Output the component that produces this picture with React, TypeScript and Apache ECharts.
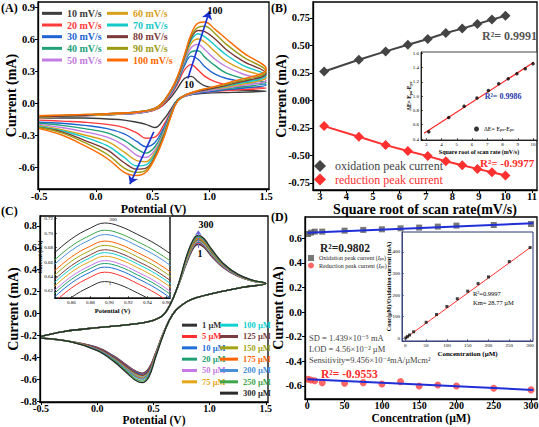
import React, { useEffect, useRef } from 'react';
import * as echarts from 'echarts';

const FONT = '"Liberation Serif", "DejaVu Serif", serif';

// ---------------- Panel A : CVs at different scan rates ----------------
const A_NAMES = ['10 mV/s', '20 mV/s', '30 mV/s', '40 mV/s', '50 mV/s', '60 mV/s', '70 mV/s', '80 mV/s', '90 mV/s', '100 mV/s'];
const A_COLORS = ['#3c3c3c', '#ff3b3b', '#1e64d2', '#21a079', '#c27be0', '#d9a01a', '#16c8c8', '#7a3838', '#9b9b12', '#ff6a00'];
const A_FWD_V = [-0.5, -0.2, 0.1, 0.4, 0.55, 0.65, 0.72, 0.78, 0.84, 0.9, 0.96, 1.05, 1.15, 1.3, 1.5];
const A_FWD_I = [
  [-0.13, -0.12, -0.11, -0.09, -0.05, 0.04, 0.14, 0.23, 0.25, 0.2, 0.16, 0.14, 0.13, 0.12, 0.11],
  [-0.13, -0.12, -0.11, -0.09, -0.05, 0.06, 0.18, 0.31, 0.36, 0.31, 0.25, 0.2, 0.17, 0.15, 0.14],
  [-0.14, -0.12, -0.11, -0.09, -0.04, 0.07, 0.2, 0.35, 0.44, 0.41, 0.34, 0.27, 0.23, 0.2, 0.17],
  [-0.14, -0.12, -0.11, -0.09, -0.04, 0.08, 0.21, 0.37, 0.48, 0.49, 0.43, 0.35, 0.28, 0.23, 0.19],
  [-0.14, -0.12, -0.11, -0.09, -0.04, 0.08, 0.22, 0.39, 0.52, 0.55, 0.5, 0.41, 0.34, 0.27, 0.21],
  [-0.14, -0.12, -0.11, -0.08, -0.04, 0.09, 0.23, 0.41, 0.56, 0.6, 0.57, 0.48, 0.39, 0.31, 0.24],
  [-0.13, -0.12, -0.1, -0.08, -0.03, 0.09, 0.24, 0.42, 0.59, 0.65, 0.62, 0.54, 0.45, 0.35, 0.26],
  [-0.13, -0.12, -0.1, -0.08, -0.03, 0.1, 0.24, 0.43, 0.61, 0.68, 0.67, 0.6, 0.5, 0.39, 0.28],
  [-0.12, -0.11, -0.1, -0.08, -0.03, 0.1, 0.25, 0.44, 0.63, 0.71, 0.72, 0.65, 0.55, 0.43, 0.3],
  [-0.12, -0.11, -0.1, -0.08, -0.03, 0.1, 0.25, 0.45, 0.65, 0.75, 0.76, 0.69, 0.6, 0.47, 0.32],
];
const A_REV_V = [1.5, 1.2, 0.95, 0.8, 0.72, 0.66, 0.6, 0.52, 0.44, 0.36, 0.25, 0.1, -0.1, -0.3, -0.5];
const A_REV_I = [
  [0.11, 0.1, 0.09, 0.07, 0.03, -0.06, -0.15, -0.23, -0.2, -0.18, -0.16, -0.15, -0.14, -0.14, -0.14],
  [0.14, 0.12, 0.1, 0.07, 0.03, -0.08, -0.2, -0.32, -0.33, -0.28, -0.23, -0.2, -0.18, -0.17, -0.16],
  [0.17, 0.13, 0.1, 0.07, 0.03, -0.09, -0.23, -0.37, -0.41, -0.36, -0.29, -0.24, -0.21, -0.19, -0.18],
  [0.19, 0.14, 0.11, 0.07, 0.03, -0.1, -0.25, -0.41, -0.47, -0.43, -0.35, -0.28, -0.24, -0.21, -0.19],
  [0.21, 0.15, 0.11, 0.07, 0.02, -0.1, -0.27, -0.44, -0.51, -0.49, -0.4, -0.32, -0.27, -0.23, -0.2],
  [0.24, 0.16, 0.12, 0.08, 0.02, -0.11, -0.28, -0.46, -0.55, -0.54, -0.46, -0.36, -0.3, -0.25, -0.21],
  [0.26, 0.17, 0.12, 0.08, 0.02, -0.11, -0.29, -0.48, -0.58, -0.59, -0.51, -0.4, -0.32, -0.26, -0.22],
  [0.28, 0.18, 0.12, 0.08, 0.02, -0.12, -0.3, -0.5, -0.61, -0.62, -0.56, -0.44, -0.35, -0.27, -0.23],
  [0.3, 0.19, 0.13, 0.08, 0.02, -0.12, -0.31, -0.51, -0.63, -0.65, -0.61, -0.48, -0.37, -0.28, -0.23],
  [0.32, 0.2, 0.13, 0.08, 0.02, -0.13, -0.32, -0.52, -0.65, -0.68, -0.65, -0.52, -0.4, -0.3, -0.24],
];
const A_X_TICKS = [-0.5, 0, 0.5, 1, 1.5];
const A_Y_TICKS = [-0.6, -0.3, 0, 0.3, 0.6, 0.9];
const A_ARROWS = [
  [[0.81, 0.23], [1.0, 0.86]],
  [[0.51, -0.27], [0.3, -0.76]],
];

// ---------------- Panel B : peak current vs sqrt(scan rate) ----------------
const B_X = [3.16, 4.47, 5.48, 6.32, 7.07, 7.75, 8.37, 8.94, 9.49, 10];
const B_OX = [0.263, 0.37, 0.446, 0.507, 0.558, 0.613, 0.653, 0.695, 0.735, 0.77];
const B_RED = [-0.233, -0.33, -0.406, -0.46, -0.506, -0.552, -0.589, -0.622, -0.653, -0.683];
const B_X_TICKS = [3, 4, 5, 6, 7, 8, 9, 10, 11];
const B_Y_TICKS = [-0.75, -0.5, -0.25, 0, 0.25, 0.5, 0.75];
// inset of B
const IB_DE = [0.5, 0.7, 0.86, 0.975, 1.08, 1.175, 1.245, 1.315, 1.385, 1.455];
const IB_FIT = [[2.85, 0.48], [10.05, 1.475]];
const IB_X_TICKS = [3, 4, 5, 6, 7, 8, 9, 10];
const IB_Y_TICKS = [0.4, 0.6, 0.8, 1.0, 1.2, 1.4, 1.6];

// ---------------- Panel C : CVs at different concentrations ----------------
const C_NAMES = ['1 µM', '5 µM', '10 µM', '20 µM', '50 µM', '75 µM', '100 µM', '125 µM', '150 µM', '175 µM', '200 µM', '250 µM', '300 µM'];
const C_COLORS = ['#333333', '#ff3030', '#1e6fd8', '#20a070', '#c878e6', '#e6a417', '#10d0d0', '#7a3c3c', '#a3a315', '#ff6400', '#4a90d9', '#3ea64a', '#2b2b2b'];
const C_FWD_PRE_V = [-0.5, -0.3, 0.0, 0.3, 0.5, 0.6, 0.7];
const C_FWD_PRE_I = [-0.21, -0.165, -0.13, -0.1, -0.062, -0.002, 0.2];
const C_FWD_PEAK_V = [0.8, 0.86, 0.9, 0.95, 1.02, 1.12, 1.25, 1.38];
const C_FWD_PEAK_I = [
  [0.47, 0.605, 0.633, 0.605, 0.52, 0.42, 0.34, 0.295],
  [0.48, 0.617, 0.646, 0.617, 0.53, 0.425, 0.343, 0.297],
  [0.485, 0.624, 0.653, 0.624, 0.536, 0.43, 0.345, 0.298],
  [0.49, 0.629, 0.658, 0.629, 0.54, 0.433, 0.347, 0.299],
  [0.495, 0.633, 0.662, 0.633, 0.545, 0.436, 0.349, 0.3],
  [0.5, 0.639, 0.668, 0.639, 0.55, 0.44, 0.351, 0.3],
  [0.505, 0.644, 0.673, 0.644, 0.555, 0.443, 0.352, 0.301],
  [0.51, 0.648, 0.677, 0.648, 0.56, 0.446, 0.353, 0.302],
  [0.515, 0.654, 0.683, 0.654, 0.565, 0.449, 0.355, 0.302],
  [0.52, 0.66, 0.689, 0.66, 0.57, 0.452, 0.356, 0.303],
  [0.528, 0.669, 0.698, 0.669, 0.576, 0.455, 0.358, 0.304],
  [0.533, 0.675, 0.704, 0.675, 0.58, 0.457, 0.359, 0.304],
  [0.54, 0.685, 0.714, 0.685, 0.585, 0.46, 0.36, 0.305],
];
const C_REV_PRE_V = [1.5, 1.3, 1.1, 0.9, 0.8, 0.7, 0.64];
const C_REV_PRE_I = [0.275, 0.24, 0.2, 0.15, 0.11, 0.03, -0.065];
const C_REV_PEAK_V = [0.58, 0.52, 0.46, 0.4, 0.34, 0.26, 0.15, 0.0];
const C_REV_PEAK_I = [
  [-0.2, -0.36, -0.5, -0.546, -0.525, -0.47, -0.39, -0.31],
  [-0.2, -0.362, -0.505, -0.551, -0.53, -0.474, -0.393, -0.312],
  [-0.202, -0.365, -0.51, -0.557, -0.535, -0.478, -0.396, -0.314],
  [-0.205, -0.372, -0.525, -0.573, -0.551, -0.49, -0.405, -0.32],
  [-0.206, -0.374, -0.53, -0.578, -0.556, -0.494, -0.408, -0.322],
  [-0.205, -0.372, -0.525, -0.573, -0.551, -0.49, -0.405, -0.32],
  [-0.207, -0.377, -0.535, -0.584, -0.562, -0.5, -0.412, -0.325],
  [-0.203, -0.368, -0.518, -0.565, -0.543, -0.484, -0.4, -0.317],
  [-0.21, -0.385, -0.55, -0.6, -0.578, -0.512, -0.42, -0.33],
  [-0.208, -0.382, -0.543, -0.592, -0.57, -0.506, -0.416, -0.328],
  [-0.21, -0.385, -0.55, -0.6, -0.578, -0.512, -0.42, -0.33],
  [-0.215, -0.393, -0.568, -0.619, -0.596, -0.528, -0.431, -0.336],
  [-0.22, -0.4, -0.58, -0.632, -0.61, -0.54, -0.44, -0.34],
];
const C_REV_END_V = [-0.25, -0.5];
const C_REV_END_I = [-0.255, -0.225];
const C_X_TICKS = [-0.5, 0, 0.5, 1, 1.5];
const C_Y_TICKS = [-0.8, -0.6, -0.4, -0.2, 0, 0.2, 0.4, 0.6, 0.8];
const C_ARROW = [[0.9, 0.6], [0.9, 0.76]];
// inset of C (zoom on the oxidation peak)
const IC_V = [0.84, 0.86, 0.88, 0.895, 0.91, 0.93, 0.95, 0.97];
const IC_I = [
  [0.589, 0.611, 0.626, 0.633, 0.629, 0.617, 0.603, 0.585],
  [0.602, 0.624, 0.639, 0.646, 0.642, 0.63, 0.616, 0.598],
  [0.609, 0.631, 0.646, 0.653, 0.649, 0.637, 0.623, 0.605],
  [0.614, 0.636, 0.651, 0.658, 0.654, 0.642, 0.628, 0.61],
  [0.618, 0.64, 0.655, 0.662, 0.658, 0.646, 0.632, 0.614],
  [0.624, 0.646, 0.661, 0.668, 0.664, 0.652, 0.638, 0.62],
  [0.629, 0.651, 0.666, 0.673, 0.669, 0.657, 0.643, 0.625],
  [0.633, 0.655, 0.67, 0.677, 0.673, 0.661, 0.647, 0.629],
  [0.639, 0.661, 0.676, 0.683, 0.679, 0.667, 0.653, 0.635],
  [0.645, 0.667, 0.682, 0.689, 0.685, 0.673, 0.659, 0.641],
  [0.654, 0.676, 0.691, 0.698, 0.694, 0.682, 0.668, 0.65],
  [0.66, 0.682, 0.697, 0.704, 0.7, 0.688, 0.674, 0.656],
  [0.67, 0.692, 0.707, 0.714, 0.71, 0.698, 0.684, 0.666],
];
const IC_ARROW = [[0.897, 0.612], [0.897, 0.722]];
const IC_X_TICKS = [0.86, 0.88, 0.9, 0.92, 0.94, 0.96];
const IC_Y_TICKS = [0.62, 0.64, 0.66, 0.68, 0.7, 0.72];

// ---------------- Panel D : peak current vs concentration ----------------
const D_CONC = [1, 5, 10, 20, 50, 75, 100, 125, 150, 175, 200, 250, 300];
const D_OX = [0.635, 0.646, 0.654, 0.654, 0.662, 0.668, 0.673, 0.681, 0.687, 0.695, 0.703, 0.708, 0.716];
const D_RED = [-0.546, -0.551, -0.557, -0.573, -0.578, -0.573, -0.584, -0.565, -0.6, -0.592, -0.6, -0.619, -0.632];
const D_OX_FIT = [[0, 0.646], [303, 0.722]];
const D_RED_FIT = [[0, -0.546], [303, -0.632]];
const D_X_TICKS = [0, 50, 100, 150, 200, 250, 300];
const D_Y_TICKS = [-0.6, -0.4, -0.2, 0, 0.2, 0.4, 0.6];
// inset of D
const ID_RATIO = [1.6, 7.8, 15, 30, 74, 110, 147, 183, 218, 253, 284, 355, 420];
const ID_FIT = [[0, 0], [302, 422]];
const ID_X_TICKS = [0, 50, 100, 150, 200, 250, 300];
const ID_Y_TICKS = [0, 100, 200, 300, 400];

const zip = (xs: number[], ys: number[]) => xs.map((x, i) => [x, ys[i]]);

function axis(gridIndex: number, min: number, max: number, ticks: number[], dec: number, o: any = {}) {
  const small = !!o.small;
  return {
    type: 'value',
    gridIndex,
    min,
    max,
    z: o.z ?? 3,
    name: o.name ?? '',
    nameLocation: 'middle',
    nameGap: o.nameGap ?? 10,
    nameMoveOverlap: false,
    nameTextStyle: {
      fontFamily: FONT,
      fontWeight: 'bold',
      fontSize: o.nameSize ?? 14,
      color: '#000',
      rich: o.rich,
    },
    axisLine: { show: true, onZero: false, lineStyle: { color: o.lineColor ?? '#000', width: small ? 0.8 : 1.3 } },
    axisTick: {
      show: true,
      customValues: ticks,
      length: small ? 2 : 3,
      inside: small,
      lineStyle: { color: o.lineColor ?? '#000', width: small ? 0.6 : 1 },
    },
    axisLabel: {
      customValues: ticks,
      fontFamily: FONT,
      fontWeight: small ? 'normal' : 'bold',
      fontSize: o.labelSize ?? 10.5,
      color: '#000',
      margin: o.labelMargin ?? (small ? 2 : 3),
      formatter: (v: number) => Number(v).toFixed(dec),
    },
    splitLine: { show: false },
  };
}

const TEXTS: any[] = [
  { x: 1, y: 8, t: '(A)', s: 12 },
  { x: 271, y: 8, t: '(B)', s: 12 },
  { x: 1, y: 211, t: '(C)', s: 12 },
  { x: 271, y: 217, t: '(D)', s: 12 },
  { x: 189, y: 84, t: '10', s: 10, a: 'center' },
  { x: 215, y: 10.5, t: '100', s: 10, a: 'center' },
  { x: 482, y: 36, t: 'R²= 0.9991', s: 12, c: '#555' },
  { x: 480, y: 162.5, t: 'R²= -0.9977', s: 11, c: '#ff2a2a' },
  { x: 503, y: 96.5, t: 'R²= 0.9986', s: 8, c: '#2a3aa8', a: 'center' },
  { x: 206, y: 224, t: '300', s: 10, a: 'center' },
  { x: 200, y: 253, t: '1', s: 10, a: 'center' },
  { x: 113, y: 219, t: '300', s: 5, w: 'normal', a: 'center', z: 40 },
  { x: 110, y: 283, t: '1', s: 5, w: 'normal', a: 'center', z: 40 },
  { x: 320, y: 248, t: 'R²=0.9802', s: 11.5, c: '#222' },
  { x: 321, y: 373.5, t: 'R²= -0.9553', s: 11.5, c: '#ff2a2a' },
  { x: 309, y: 337.5, t: 'SD = 1.439×10⁻⁵ mA', s: 8.5, c: '#444', w: 'normal' },
  { x: 309, y: 348.5, t: 'LOD = 4.56×10⁻² µM', s: 8.5, c: '#444', w: 'normal' },
  { x: 309, y: 360, t: 'Sensitivity=9.456×10⁻⁴mA/µMcm²', s: 8.5, c: '#444', w: 'normal' },
  { x: 473, y: 293.5, t: 'R²=0.9997', s: 6.5, w: 'normal', z: 40 },
  { x: 473, y: 302.5, t: 'Km= 28.77 µM', s: 6.5, w: 'normal', z: 40 },
];

function buildOption() {
  const series: any[] = [];
  // A
  A_NAMES.forEach((n, k) => {
    series.push({
      type: 'line', name: n, xAxisIndex: 0, yAxisIndex: 0, showSymbol: false, smooth: 0.4,
      color: A_COLORS[k], lineStyle: { width: 1.4, color: A_COLORS[k] },
      data: zip(A_FWD_V, A_FWD_I[k]).concat(zip(A_REV_V, A_REV_I[k])),
    });
  });
  series.push({
    type: 'line', xAxisIndex: 0, yAxisIndex: 0, data: [], z: 5,
    markLine: {
      silent: true, symbol: ['none', 'arrow'], symbolSize: 8,
      lineStyle: { color: '#1a2fd0', width: 1.6, type: 'solid' }, label: { show: false },
      data: A_ARROWS.map(([p, q]) => [{ coord: p }, { coord: q }]),
    },
  });
  // B
  series.push({
    type: 'line', name: 'oxidation peak current', xAxisIndex: 1, yAxisIndex: 1, symbol: 'diamond', symbolSize: 10,
    color: '#444', lineStyle: { width: 2, color: '#444' }, data: zip(B_X, B_OX),
  });
  series.push({
    type: 'line', name: 'reduction peak current', xAxisIndex: 1, yAxisIndex: 1, symbol: 'diamond', symbolSize: 10,
    color: '#ff3030', lineStyle: { width: 2, color: '#ff3030' }, data: zip(B_X, B_RED),
  });
  // B inset
  series.push({
    type: 'line', xAxisIndex: 2, yAxisIndex: 2, showSymbol: false, z: 12,
    lineStyle: { width: 1.2, color: '#ff2020' }, data: IB_FIT,
  });
  series.push({
    type: 'scatter', name: 'ΔE= Epa-Epc', xAxisIndex: 2, yAxisIndex: 2, symbol: 'circle', symbolSize: 3.5, z: 13,
    color: '#000', data: zip(B_X, IB_DE),
  });
  // C
  C_NAMES.forEach((n, k) => {
    series.push({
      type: 'line', name: n, xAxisIndex: 3, yAxisIndex: 3, showSymbol: false, smooth: 0.4,
      color: C_COLORS[k], lineStyle: { width: 1.3, color: C_COLORS[k] },
      data: zip(C_FWD_PRE_V, C_FWD_PRE_I)
        .concat(zip(C_FWD_PEAK_V, C_FWD_PEAK_I[k]))
        .concat(zip(C_REV_PRE_V, C_REV_PRE_I))
        .concat(zip(C_REV_PEAK_V, C_REV_PEAK_I[k]))
        .concat(zip(C_REV_END_V, C_REV_END_I)),
    });
  });
  series.push({
    type: 'line', xAxisIndex: 3, yAxisIndex: 3, data: [], z: 5,
    markLine: {
      silent: true, symbol: ['none', 'arrow'], symbolSize: 5,
      lineStyle: { color: '#6a6ad0', width: 1, type: 'dashed' }, label: { show: false },
      data: [[{ coord: C_ARROW[0] }, { coord: C_ARROW[1] }]],
    },
  });
  // C inset
  C_NAMES.forEach((n, k) => {
    series.push({
      type: 'line', xAxisIndex: 4, yAxisIndex: 4, showSymbol: false, smooth: 0.4, z: 12,
      lineStyle: { width: 1, color: C_COLORS[k] }, data: zip(IC_V, IC_I[k]),
    });
  });
  series.push({
    type: 'line', xAxisIndex: 4, yAxisIndex: 4, data: [], z: 13,
    markLine: {
      silent: true, symbol: ['none', 'arrow'], symbolSize: 5,
      lineStyle: { color: '#1a2fd0', width: 1.5, type: 'solid' }, label: { show: false },
      data: [[{ coord: IC_ARROW[0] }, { coord: IC_ARROW[1] }]],
    },
  });
  // D
  series.push({
    type: 'scatter', name: 'Oxidation peak current (Ipa)', xAxisIndex: 5, yAxisIndex: 5, symbol: 'rect', symbolSize: 6,
    color: '#555', data: zip(D_CONC, D_OX),
  });
  series.push({
    type: 'scatter', name: 'Reduction peak current (Ipc)', xAxisIndex: 5, yAxisIndex: 5, symbol: 'circle', symbolSize: 7,
    color: '#ff4040', data: zip(D_CONC, D_RED),
  });
  series.push({
    type: 'line', xAxisIndex: 5, yAxisIndex: 5, showSymbol: false, z: 4,
    lineStyle: { width: 2, color: '#1f2fd8' }, data: D_OX_FIT,
  });
  series.push({
    type: 'line', xAxisIndex: 5, yAxisIndex: 5, showSymbol: false, z: 4,
    lineStyle: { width: 2, color: '#1f2fd8' }, data: D_RED_FIT,
  });
  // D inset
  series.push({
    type: 'line', xAxisIndex: 6, yAxisIndex: 6, showSymbol: false, z: 12,
    lineStyle: { width: 1, color: '#ff3030' }, data: ID_FIT,
  });
  series.push({
    type: 'scatter', xAxisIndex: 6, yAxisIndex: 6, symbol: 'rect', symbolSize: 3, z: 13,
    color: '#111', data: zip(D_CONC, ID_RATIO),
  });

  const mainGrid = { show: true, borderColor: '#000', borderWidth: 1.3, backgroundColor: 'transparent', containLabel: false, outerBoundsMode: 'none' };
  const insetGrid = (c: string, bw: number) => ({ show: true, borderColor: c, borderWidth: bw, backgroundColor: '#fff', containLabel: false, z: 10, outerBoundsMode: 'none' });

  const grid = [
    { ...mainGrid, left: 38, top: 2, width: 231, height: 187 },
    { ...mainGrid, left: 313, top: 2, width: 224, height: 188 },
    { ...insetGrid('#444', 1), left: 421, top: 52, width: 116, height: 88 },
    { ...mainGrid, left: 40, top: 216, width: 228, height: 186 },
    { ...insetGrid('#555', 2), left: 55, top: 216, width: 115, height: 82 },
    { ...mainGrid, left: 305, top: 217, width: 232, height: 182 },
    { ...insetGrid('#2a3470', 1), left: 402, top: 232, width: 131, height: 109 },
  ];

  const insetO = (name: string, gap: number, extra: any = {}) => ({ small: true, z: 11, name, nameGap: gap, nameSize: 6, labelSize: 5, ...extra });

  const xAxis = [
    axis(0, -0.51, 1.525, A_X_TICKS, 1, { name: 'Potential (V)', nameGap: 14, nameSize: 12, labelMargin: 2 }),
    axis(1, 2.74, 11.19, B_X_TICKS, 0, { name: 'Square root of scan rate(mV/s)', nameGap: 12, nameSize: 14, labelMargin: 1 }),
    axis(2, 2.65, 10.26, IB_X_TICKS, 0, insetO('Square root of scan rate (mV/s)', 8.5)),
    axis(3, -0.509, 1.52, C_X_TICKS, 1, { name: 'Potential (V)', nameGap: 12, nameSize: 11.5, labelSize: 10, labelMargin: 1 }),
    axis(4, 0.8428, 0.9639, IC_X_TICKS, 2, insetO('Potential (V)', 8.5, { nameSize: 6.5 })),
    axis(5, -3.1, 308, D_X_TICKS, 0, { name: 'Concentration (µM)', nameGap: 13, nameSize: 11.5, labelSize: 10, labelMargin: 1 }),
    axis(6, -8, 307, ID_X_TICKS, 0, insetO('Concentration (µM)', 9, { nameSize: 7, lineColor: '#2a3470' })),
  ];
  const yAxis = [
    axis(0, -0.806, 0.947, A_Y_TICKS, 1, { name: 'Current (mA)', nameGap: 20 }),
    axis(1, -0.814, 0.895, B_Y_TICKS, 2, { name: 'Current (mA)', nameGap: 25 }),
    axis(2, 0.386, 1.618, IB_Y_TICKS, 1, insetO('{n|ΔE= E}{s|pa}{n|-E}{s|pc}', 9, {
      rich: { n: { fontSize: 5.5, fontFamily: FONT }, s: { fontSize: 4, fontFamily: FONT, verticalAlign: 'bottom' } },
    })),
    axis(3, -0.809, 0.891, C_Y_TICKS, 1, { name: 'Current (mA)', nameGap: 20 }),
    axis(4, 0.6103, 0.7237, IC_Y_TICKS, 2, insetO('Current (mA)', 12, { nameSize: 5.5 })),
    axis(5, -0.706, 0.773, D_Y_TICKS, 1, { name: 'Current (mA)', nameGap: 20 }),
    axis(6, -12.6, 492, ID_Y_TICKS, 0, insetO('Conc(µM)/Oxidation current (mA)', 10, { nameSize: 6, lineColor: '#2a3470' })),
  ];

  const legText = { fontFamily: FONT, fontWeight: 'bold', color: '#000' };
  const colItems = (names: string[], colors: string[]) => names.map((n, i) => ({ name: n, textStyle: { color: colors[i] } }));
  const legend = [
    {
      data: colItems(A_NAMES.slice(0, 5), A_COLORS.slice(0, 5)), left: 42, top: 7.5, orient: 'vertical',
      icon: 'rect', itemWidth: 20, itemHeight: 3, itemGap: 0, padding: 0, selectedMode: false,
      textStyle: { ...legText, fontSize: 10, lineHeight: 11.67 },
    },
    {
      data: colItems(A_NAMES.slice(5), A_COLORS.slice(5)), left: 107, top: 7.5, orient: 'vertical',
      icon: 'rect', itemWidth: 21, itemHeight: 3, itemGap: 0, padding: 0, selectedMode: false,
      textStyle: { ...legText, fontSize: 10, lineHeight: 11.67 },
    },
    {
      data: colItems(['oxidation peak current', 'reduction peak current'], ['#444', '#ff3030']), left: 314, top: 160,
      orient: 'vertical', icon: 'diamond', itemWidth: 12, itemHeight: 12, itemGap: 1.5, padding: 0, selectedMode: false,
      textStyle: { fontFamily: FONT, fontSize: 12, lineHeight: 12, padding: [0, 0, 0, 4] },
    },
    {
      data: ['ΔE= Epa-Epc'], left: 474, top: 126, orient: 'vertical', icon: 'circle', itemWidth: 5, itemHeight: 5,
      padding: 0, selectedMode: false, z: 14,
      formatter: () => '{n|ΔE= E}{s|pa}{n|-E}{s|pc}',
      textStyle: { rich: { n: { fontFamily: FONT, fontSize: 6, color: '#000' }, s: { fontFamily: FONT, fontSize: 4.5, color: '#000', verticalAlign: 'bottom' } } },
    },
    {
      data: colItems(C_NAMES.slice(0, 6), C_COLORS.slice(0, 6)), left: 182, top: 319.5, orient: 'vertical',
      icon: 'rect', itemWidth: 15, itemHeight: 3, itemGap: 0, padding: 0, selectedMode: false,
      textStyle: { ...legText, fontSize: 8.5, lineHeight: 11.33 },
    },
    {
      data: colItems(C_NAMES.slice(6), C_COLORS.slice(6)), left: 220, top: 319.5, orient: 'vertical',
      icon: 'rect', itemWidth: 18, itemHeight: 3, itemGap: 0, padding: 0, selectedMode: false,
      textStyle: { ...legText, fontSize: 8.5, lineHeight: 11.33 },
    },
    {
      data: ['Oxidation peak current (Ipa)', 'Reduction peak current (Ipc)'], left: 308, top: 255, orient: 'vertical',
      itemWidth: 6, itemHeight: 6, itemGap: 1.5, padding: 0, selectedMode: false,
      formatter: (n: string) => n.replace(/\((I)(p[ac])\)/, '({i|I}{s|$2})').replace(/^([^{(]*)/, '{n|$1}'),
      textStyle: {
        fontFamily: FONT, fontSize: 6, color: '#222',
        rich: {
          n: { fontFamily: FONT, fontSize: 6, color: '#222' },
          i: { fontFamily: FONT, fontSize: 6, fontStyle: 'italic', color: '#222' },
          s: { fontFamily: FONT, fontSize: 4.5, color: '#222', verticalAlign: 'bottom' },
        },
      },
    },
  ];

  const graphic = TEXTS.map((t) => ({
    type: 'text', x: t.x, y: t.y, z: t.z ?? 30, silent: true,
    style: {
      text: t.t, fill: t.c ?? '#000',
      font: `${t.w ?? 'bold'} ${t.s}px ${FONT}`,
      textAlign: t.a ?? 'left', textVerticalAlign: 'middle',
    },
  }));

  return {
    animation: false,
    backgroundColor: '#fff',
    grid, xAxis, yAxis, series, legend, graphic,
  };
}

export default function App() {
  const ref = useRef<HTMLDivElement>(null);
  useEffect(() => {
    document.body.style.margin = '0';
    const chart = echarts.init(ref.current!, null, { renderer: 'svg' });
    chart.setOption(buildOption() as any);
    return () => chart.dispose();
  }, []);
  return <div ref={ref} style={{ position: 'fixed', left: 0, top: 0, width: 539, height: 427, background: '#fff' }} />;
}
